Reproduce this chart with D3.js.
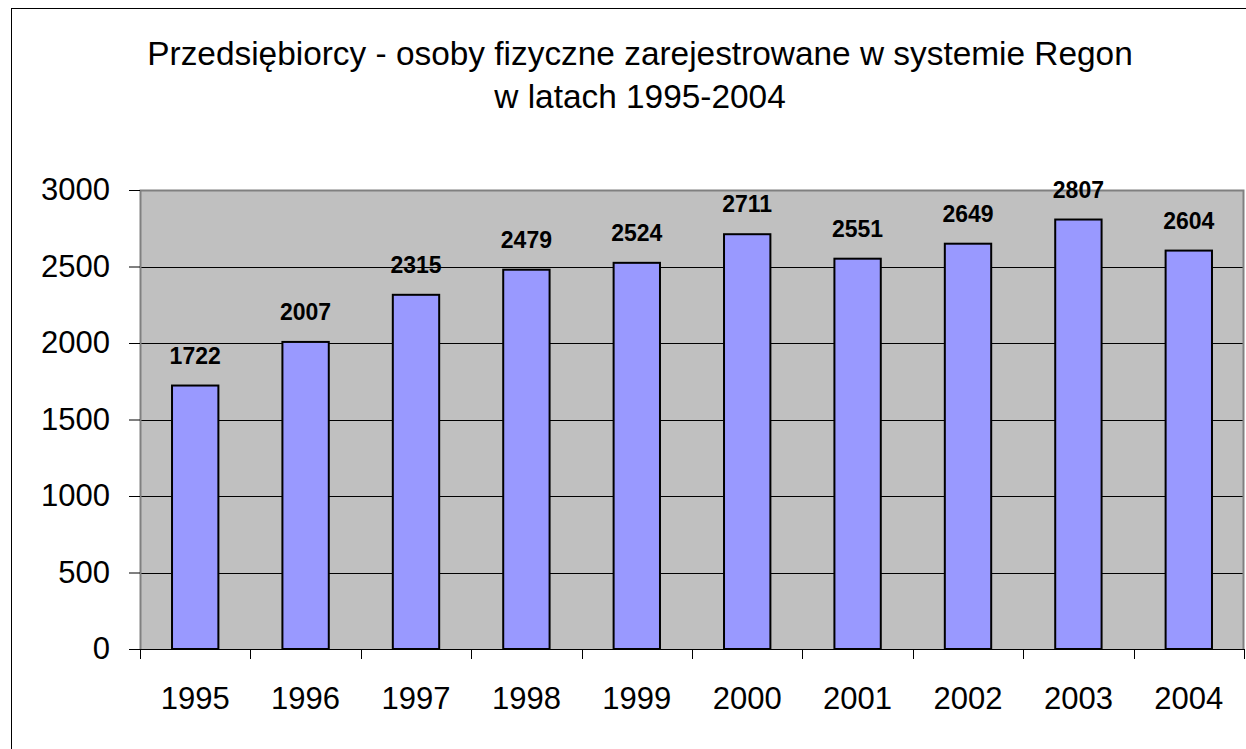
<!DOCTYPE html>
<html>
<head>
<meta charset="utf-8">
<script src="https://cdn.jsdelivr.net/npm/d3@7"></script>
<style>
  body { margin: 0; background: #fff; }
  text { font-family: 'Liberation Sans', Arial, sans-serif; }
</style>
</head>
<body>
<svg id="chart" width="1246" height="749"></svg>
<script>
// chart data
const years = ['1995', '1996', '1997', '1998', '1999', '2000', '2001', '2002', '2003', '2004'];
const values = [1722, 2007, 2315, 2479, 2524, 2711, 2551, 2649, 2807, 2604];
const yTicks = [0, 500, 1000, 1500, 2000, 2500, 3000];
const titleLines = ['Przedsiębiorcy - osoby fizyczne zarejestrowane w systemie Regon', 'w latach 1995-2004'];

const plot = { left: 140, right: 1244, top: 190, bottom: 649 };

const svg = d3.select('#chart');

// outer chart frame
svg.append('rect')
  .attr('x', 11.5)
  .attr('y', 8.5)
  .attr('width', 1260)
  .attr('height', 760)
  .attr('fill', '#fff')
  .attr('stroke', '#000')
  .attr('stroke-width', 1);

// title
svg.append('g')
  .selectAll('text')
  .data(titleLines)
  .join('text')
  .attr('x', 640)
  .attr('y', (d, i) => 65 + i * 43)
  .attr('text-anchor', 'middle')
  .attr('font-size', '33.4px')
  .attr('fill', '#000')
  .text(d => d);

const xScale = d3.scaleBand()
  .domain(years)
  .range([plot.left, plot.right])
  .padding(0);

const yScale = d3.scaleLinear()
  .domain([0, 3000])
  .range([plot.bottom, plot.top]);

// plot background
svg.append('rect')
  .attr('x', plot.left)
  .attr('y', plot.top)
  .attr('width', plot.right - plot.left)
  .attr('height', plot.bottom - plot.top)
  .attr('fill', '#c0c0c0');

// gridlines
svg.append('g')
  .selectAll('line')
  .data(yTicks.filter(d => d > 0 && d < 3000))
  .join('line')
  .attr('x1', plot.left)
  .attr('x2', plot.right)
  .attr('y1', d => Math.round(yScale(d)) + 0.5)
  .attr('y2', d => Math.round(yScale(d)) + 0.5)
  .attr('stroke', '#000')
  .attr('stroke-width', 1);

// plot border (top/right/left gray)
svg.append('path')
  .attr('d', `M${plot.left + 0.5},${plot.bottom}V${plot.top + 0.5}H${plot.right - 0.5}V${plot.bottom}`)
  .attr('fill', 'none')
  .attr('stroke', '#808080')
  .attr('stroke-width', 2);

// bars
const barW = xScale.bandwidth() * 0.42;
svg.append('g')
  .selectAll('rect')
  .data(values)
  .join('rect')
  .attr('x', (d, i) => xScale(years[i]) + (xScale.bandwidth() - barW) / 2)
  .attr('y', d => yScale(d))
  .attr('width', barW)
  .attr('height', d => yScale(0) - yScale(d))
  .attr('fill', '#9999ff')
  .attr('stroke', '#000')
  .attr('stroke-width', 2);

// value labels
svg.append('g')
  .selectAll('text')
  .data(values)
  .join('text')
  .attr('x', (d, i) => xScale(years[i]) + xScale.bandwidth() / 2)
  .attr('y', d => yScale(d) - 22)
  .attr('text-anchor', 'middle')
  .attr('font-size', '23px')
  .attr('font-weight', 'bold')
  .attr('fill', '#000')
  .text(d => d);

// y axis
const yAxis = svg.append('g')
  .attr('transform', `translate(${plot.left},0)`)
  .call(d3.axisLeft(yScale).tickValues(yTicks).tickSize(11).tickPadding(19).tickFormat(d3.format('d')));
yAxis.select('.domain').remove();
yAxis.selectAll('text')
  .attr('font-size', '31px')
  .attr('font-family', "'Liberation Sans', Arial, sans-serif")
  .attr('fill', '#000');

// x axis: labels at centres, ticks at category boundaries
const xAxis = svg.append('g')
  .attr('transform', `translate(0,${plot.bottom})`)
  .call(d3.axisBottom(xScale).tickSize(0).tickPadding(38));
xAxis.select('.domain').remove();
xAxis.selectAll('text')
  .attr('font-size', '31px')
  .attr('font-family', "'Liberation Sans', Arial, sans-serif")
  .attr('fill', '#000');

const bounds = years.map(d => xScale(d)).concat([plot.right]);
svg.append('g')
  .selectAll('line')
  .data(bounds)
  .join('line')
  .attr('x1', d => Math.round(d) + 0.5)
  .attr('x2', d => Math.round(d) + 0.5)
  .attr('y1', plot.bottom)
  .attr('y2', plot.bottom + 10)
  .attr('stroke', '#000');

svg.append('line')
  .attr('x1', plot.left)
  .attr('x2', plot.right)
  .attr('y1', plot.bottom + 0.5)
  .attr('y2', plot.bottom + 0.5)
  .attr('stroke', '#000')
  .attr('stroke-width', 1);
</script>
</body>
</html>
